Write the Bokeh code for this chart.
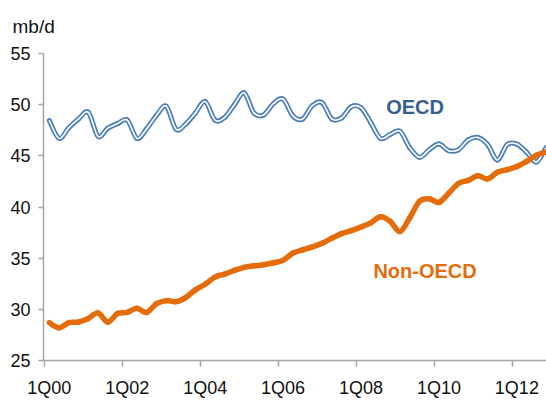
import numpy as np
from bokeh.plotting import figure
from bokeh.models import Range1d, FixedTicker, Label
from bokeh.embed import file_html
from bokeh.resources import INLINE

# Quarterly oil demand, 1Q00 .. 4Q12 (mb/d)
OECD = [48.45, 46.7, 47.75, 48.6,
        49.25, 46.9, 47.7, 48.15,
        48.5, 46.7, 47.65, 48.95,
        49.85, 47.6, 48.1, 49.2,
        50.3, 48.5, 48.75, 50.0,
        51.15, 49.2, 49.0, 50.1,
        50.55, 48.9, 48.6, 49.9,
        50.2, 48.6, 48.7, 49.8,
        49.7, 48.25, 46.7, 47.1,
        47.4, 45.8, 44.85, 45.6,
        46.15, 45.5, 45.6, 46.55,
        46.8, 46.1, 44.6, 46.1,
        46.15, 45.35, 44.4, 45.8]

NON_OECD = [28.7, 28.2, 28.7, 28.75,
            29.1, 29.65, 28.75, 29.6,
            29.7, 30.1, 29.7, 30.55,
            30.85, 30.75, 31.15, 31.9,
            32.45, 33.15, 33.45, 33.8,
            34.1, 34.25, 34.35, 34.55,
            34.8, 35.5, 35.8, 36.1,
            36.45, 36.95, 37.4, 37.7,
            38.05, 38.45, 39.05, 38.6,
            37.6, 38.95, 40.55, 40.8,
            40.45, 41.35, 42.3, 42.6,
            43.05, 42.75, 43.4, 43.65,
            43.95, 44.45, 45.05, 45.4]

TICK_LABELS = ["1Q00", "1Q02", "1Q04", "1Q06", "1Q08", "1Q10", "1Q12"]
TICK_INDEX = [0, 8, 16, 24, 32, 40, 48]
Y_TICKS = [25, 30, 35, 40, 45, 50, 55]

FONT = "Liberation Sans"
AXIS_GREY = "#A6A6A6"
BLUE = "#4A7EBB"
ORANGE = "#E46C0A"

x = np.arange(len(OECD), dtype=float)


def smooth_segments(xs, ys):
    """Catmull-Rom style bezier control points (Excel 'smoothed line')."""
    xs = np.asarray(xs, float)
    ys = np.asarray(ys, float)
    xp = np.concatenate([[xs[0]], xs, [xs[-1]]])
    yp = np.concatenate([[ys[0]], ys, [ys[-1]]])
    x0, y0 = xs[:-1], ys[:-1]
    x1, y1 = xs[1:], ys[1:]
    cx0 = x0 + (xp[2:-1] - xp[:-3]) / 6.0
    cy0 = y0 + (yp[2:-1] - yp[:-3]) / 6.0
    cx1 = x1 - (xp[3:] - xp[1:-2]) / 6.0
    cy1 = y1 - (yp[3:] - yp[1:-2]) / 6.0
    return dict(x0=x0, y0=y0, x1=x1, y1=y1, cx0=cx0, cy0=cy0, cx1=cx1, cy1=cy1)


p = figure(width=546, height=402, output_backend="svg", toolbar_location=None,
           title="mb/d", x_range=Range1d(-0.6, 51.04), y_range=Range1d(25, 55),
           min_border_left=43, min_border_right=0, min_border_top=53,
           min_border_bottom=42)
p.outline_line_color = None
p.xgrid.visible = False
p.ygrid.visible = False
p.background_fill_color = "white"
p.border_fill_color = "white"

p.title.align = "left"
p.title.vertical_align = "top"
p.title.offset = -31
p.title.standoff = 29
p.title.text_font = FONT
p.title.text_font_size = "19px"
p.title.text_font_style = "normal"
p.title.text_color = "#111111"

# OECD: double line (blue outline with white core)
so = smooth_segments(x, OECD)
p.bezier(line_color=BLUE, line_width=5, line_cap="round", **so)
p.bezier(line_color="white", line_width=1.6, line_cap="round", **so)

# Non-OECD: thick orange line
sn = smooth_segments(x, NON_OECD)
p.bezier(line_color=ORANGE, line_width=5.5, line_cap="round", **sn)

# axes
xa = p.xaxis[0]
xa.ticker = FixedTicker(ticks=TICK_INDEX, minor_ticks=[t - 0.5 for t in TICK_INDEX])
xa.major_label_overrides = {t: l for t, l in zip(TICK_INDEX, TICK_LABELS)}
xa.major_tick_line_color = None
xa.major_tick_out = 6
xa.major_tick_in = 0
xa.minor_tick_line_color = AXIS_GREY
xa.minor_tick_line_width = 1.5
xa.minor_tick_out = 6
xa.minor_tick_in = 0
xa.axis_line_color = AXIS_GREY
xa.axis_line_width = 1.5
xa.major_label_text_font = FONT
xa.major_label_text_font_size = "18px"
xa.major_label_text_color = "#111111"
xa.major_label_standoff = 11

ya = p.yaxis[0]
ya.ticker = FixedTicker(ticks=Y_TICKS)
ya.major_tick_out = 5
ya.major_tick_in = 0
ya.major_tick_line_color = AXIS_GREY
ya.major_tick_line_width = 1.5
ya.minor_tick_line_color = None
ya.axis_line_color = AXIS_GREY
ya.axis_line_width = 1.5
ya.major_label_text_font = FONT
ya.major_label_text_font_size = "18px"
ya.major_label_text_color = "#111111"
ya.major_label_standoff = 8

# series labels
p.add_layout(Label(x=37.55, y=49.82, text="OECD", text_font=FONT,
                   text_font_size="20px", text_font_style="bold",
                   text_color="#366092", text_align="center",
                   text_baseline="alphabetic"))
p.add_layout(Label(x=38.57, y=33.79, text="Non-OECD", text_font=FONT,
                   text_font_size="20px", text_font_style="bold",
                   text_color=ORANGE, text_align="center",
                   text_baseline="alphabetic"))

open("out.html", "w").write(file_html(p, INLINE))
